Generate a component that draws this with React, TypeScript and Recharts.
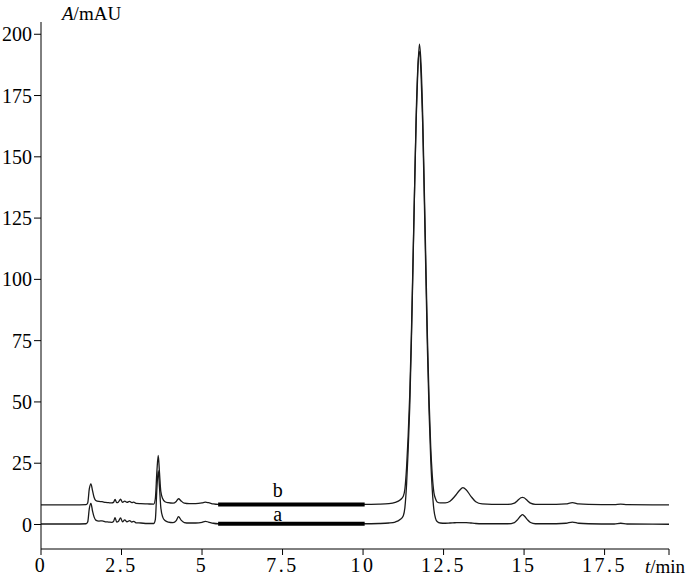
import { LineChart, Line, XAxis, YAxis, ReferenceLine, ReferenceDot } from "recharts";

// retention time (min) shared by both traces
const timeMin = [
  0, 1.0, 1.4, 1.45, 1.5, 1.55, 1.6, 1.65, 1.7, 1.8, 1.9, 2.0, 2.1, 2.2, 2.25, 2.3, 2.35, 2.4, 2.47, 2.53,
  2.6, 2.67, 2.75, 2.82, 2.88, 2.95, 3.1, 3.3, 3.5, 3.55, 3.6, 3.64, 3.68, 3.72, 3.78, 3.85, 3.95, 4.1, 4.2, 4.27,
  4.35, 4.45, 4.6, 4.8, 5.0, 5.1, 5.2, 5.35, 5.5, 7.0, 10.0, 10.5, 10.8, 11.0, 11.15, 11.25, 11.3, 11.35, 11.4, 11.45,
  11.5, 11.55, 11.6, 11.65, 11.7, 11.75, 11.8, 11.85, 11.9, 11.95, 12.0, 12.05, 12.1, 12.15, 12.2, 12.25, 12.3, 12.4, 12.55, 12.7,
  12.85, 13.0, 13.1, 13.2, 13.35, 13.5, 13.7, 14.0, 14.5, 14.7, 14.8, 14.9, 14.95, 15.0, 15.1, 15.2, 15.35, 16.0, 16.3, 16.5,
  16.7, 17.0, 17.8, 18.0, 18.2, 19.5,
];

// trace a (mAU)
const traceA = [
  0.2, 0.2, 0.3, 1.0, 6.5, 8.6, 5.5, 3.0, 1.8, 1.4, 1.5, 1.1, 1.0, 0.9, 1.2, 2.8, 1.0, 1.2, 2.7, 1.1,
  1.9, 1.1, 1.6, 1.0, 1.3, 0.7, 0.6, 0.4, 0.4, 2.0, 15.0, 22.0, 15.0, 7.0, 3.0, 1.6, 1.0, 0.8, 1.6, 3.2,
  1.8, 0.8, 0.6, 0.6, 0.9, 1.3, 1.0, 0.5, 0.3, 0.3, 0.3, 0.4, 0.6, 1.0, 2.0, 3.6, 7.0, 16, 30, 48,
  74, 105, 137, 167, 186, 193, 184, 164, 134, 102, 71, 46, 27, 14, 6, 2.5, 1.2, 0.6, 0.5, 0.6,
  0.7, 0.8, 0.8, 0.8, 0.6, 0.4, 0.3, 0.3, 0.3, 0.8, 2.0, 3.6, 4.0, 3.6, 2.0, 0.8, 0.3, 0.3, 0.5, 1.0,
  0.5, 0.3, 0.2, 0.5, 0.2, 0.1,
];

// trace b (mAU), drawn offset above a
const traceB = [
  8.0, 8.0, 8.1, 8.8, 14.5, 16.6, 13.8, 11.0, 9.8, 9.4, 9.3, 9.0, 8.9, 8.8, 9.0, 10.2, 8.9, 9.1, 10.3, 9.0,
  9.5, 9.0, 9.4, 8.9, 9.1, 8.6, 8.5, 8.4, 8.3, 10.5, 22.0, 28.2, 21.0, 13.5, 10.5, 9.3, 8.9, 8.7, 9.4, 10.5,
  9.6, 8.7, 8.5, 8.5, 8.8, 9.1, 8.9, 8.4, 8.2, 8.2, 8.2, 8.3, 8.5, 9.0, 10.0, 11.5, 14.5, 23, 36, 53,
  77, 107, 137, 165, 185, 196, 188, 168, 138, 107, 76, 51, 32, 20, 13, 10.5, 9.2, 8.8, 8.8, 9.5,
  11.5, 14.0, 15.0, 14.2, 11.5, 9.3, 8.4, 8.2, 8.2, 8.7, 9.8, 10.9, 11.1, 10.9, 9.8, 8.7, 8.2, 8.2, 8.4, 8.9,
  8.4, 8.2, 8.1, 8.3, 8.1, 8.0,
];

const xTicks = [0, 2.5, 5, 7.5, 10, 12.5, 15, 17.5, 19.5];
const yTicks = [0, 25, 50, 75, 100, 125, 150, 175, 200];

// thick marker bars and trace labels
const barStart = 5.5;
const barEnd = 10.05;
const barLevelA = 0.3;
const barLevelB = 8.2;
const labelX = 7.35;
const labelYA = 1.4;
const labelYB = 11.2;

const rows = timeMin.map((t, i) => ({ t, a: traceA[i], b: traceB[i] }));

const FONT = "'Liberation Serif', 'DejaVu Serif', serif";

export default function App() {
  const textLabel = (txt: string) => (p: any) => (
    <text x={p.cx} y={p.cy} textAnchor="middle" fontSize={20} fontFamily={FONT} fill="#000">
      {txt}
    </text>
  );

  return (
    <div style={{ position: "absolute", left: 0, top: 0 }}>
      <LineChart width={700} height={577} data={rows} margin={{ top: 22, right: 31, bottom: 0, left: 0 }}>
        <XAxis
          dataKey="t"
          type="number"
          domain={[0, 19.5]}
          ticks={xTicks}
          interval={0}
          tickFormatter={(v: number) => (v === 19.5 ? "" : String(v))}
          height={28}
          tickSize={6}
          tickMargin={3}
          axisLine={{ stroke: "#000" }}
          tickLine={{ stroke: "#000" }}
          tick={{ fill: "#000", fontSize: 20, fontFamily: FONT, letterSpacing: 2.5 }}
          label={{
            content: ({ viewBox }: any) => (
              <text x={viewBox.x + viewBox.width - 24} y={viewBox.y + 24} fontSize={19} fontFamily={FONT} fill="#000">
                <tspan fontStyle="italic">t</tspan>/min
              </text>
            ),
          }}
        />
        <YAxis
          type="number"
          domain={[-10, 205]}
          ticks={yTicks}
          interval={0}
          width={41}
          tickSize={7}
          tickMargin={2}
          axisLine={{ stroke: "#000" }}
          tickLine={{ stroke: "#000" }}
          tick={{ fill: "#000", fontSize: 20, fontFamily: FONT }}
          label={{
            content: ({ viewBox }: any) => (
              <text x={viewBox.x + viewBox.width + 21} y={viewBox.y - 2} fontSize={19} fontFamily={FONT} fill="#000">
                <tspan fontStyle="italic">A</tspan>/mAU
              </text>
            ),
          }}
        />
        <Line type="monotone" dataKey="a" stroke="#1a1a1a" strokeWidth={1.3} dot={false} isAnimationActive={false} />
        <Line type="monotone" dataKey="b" stroke="#1a1a1a" strokeWidth={1.3} dot={false} isAnimationActive={false} />
        <ReferenceLine segment={[{ x: barStart, y: barLevelA }, { x: barEnd, y: barLevelA }]} stroke="#000" strokeWidth={4} />
        <ReferenceLine segment={[{ x: barStart, y: barLevelB }, { x: barEnd, y: barLevelB }]} stroke="#000" strokeWidth={4} />
        <ReferenceDot x={labelX} y={labelYB} r={0} shape={textLabel("b")} />
        <ReferenceDot x={labelX} y={labelYA} r={0} shape={textLabel("a")} />
      </LineChart>
    </div>
  );
}
